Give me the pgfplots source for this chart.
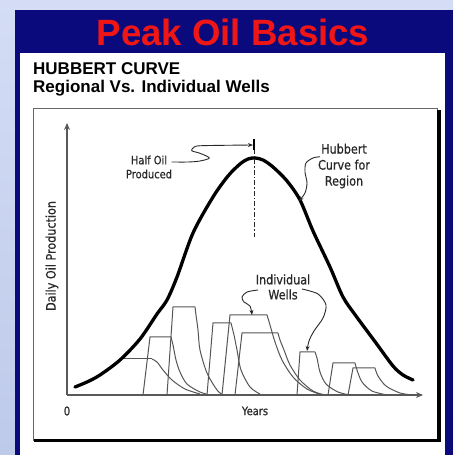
\documentclass[border=0pt]{standalone}
\usepackage{fontspec}
\setmainfont{Liberation Sans}
\newfontfamily\lab[FakeStretch=0.86, FakeBold=0.6]{DejaVu Sans}
\usepackage{pgfplots}
\pgfplotsset{compat=1.18}
\usetikzlibrary{arrows.meta}
\definecolor{bgblue}{RGB}{200,210,238}
\definecolor{navy}{RGB}{10,10,125}
\definecolor{titlered}{RGB}{240,22,22}
\definecolor{wellgray}{RGB}{85,85,85}
\definecolor{labgray}{RGB}{40,40,40}
\begin{document}
\begin{tikzpicture}[x=1pt,y=1pt]
\shade[top color={rgb,255:red,212;green,221;blue,245}, bottom color={rgb,255:red,190;green,202;blue,234}] (0,0) rectangle (453,455);
\fill[navy] (15,0) rectangle (453,445);
\fill[white] (20,0) rectangle (445,402);
\node[anchor=base, inner sep=0, text=titlered, font=\fontsize{36.6}{40}\selectfont\bfseries] at (233,409) {Peak Oil Basics};
\node[anchor=base west, inner sep=0, font=\fontsize{17}{20}\selectfont\bfseries] at (33,380) {HUBBERT CURVE};
\node[anchor=base west, inner sep=0, font=\fontsize{17}{20}\selectfont\bfseries] at (33,362) {Regional Vs. Individual Wells};
\draw[black!60, line width=0.8pt] (33,15) rectangle (437,347);
\draw[black, line width=3.5pt] (34,14.5) -- (439,14.5) -- (439,345);
\begin{axis}[at={(67pt,60pt)}, anchor=south west,
  x=1pt, y=1pt, xmin=0, xmax=356, ymin=0, ymax=272,
  axis lines=left, xtick=\empty, ytick=\empty, clip=false,
  axis line style={draw=black!65, line width=1.3pt},
  x axis line style={-{Stealth[length=7pt,width=6pt]}},
  y axis line style={-{Stealth[length=7pt,width=6pt]}},
  well/.style={draw=wellgray, line width=1pt, sharp plot, no marks},
  decay/.style={draw=wellgray, line width=1pt, smooth, no marks},
  leader/.style={draw=labgray, line width=0.9pt, smooth, no marks},
]
% individual wells: rise + plateau, then decline
\addplot[well] coordinates {(55,36) (85,36)};
\addplot[decay] coordinates {(85,36) (90,33) (96,25) (105,15) (118,6) (133,1)};
\addplot[well] coordinates {(76,0) (83,58) (104,58)};
\addplot[decay] coordinates {(104,58) (106,50) (109,35) (113,23) (120,11) (133,3) (143,0)};
\addplot[well] coordinates {(100,0) (106,88) (128,88)};
\addplot[decay] coordinates {(128,88) (129,80) (131,65) (133,45) (140,22) (150,5) (156,0)};
\addplot[well] coordinates {(140,0) (146,72) (164,72)};
\addplot[decay] coordinates {(164,72) (167,60) (170,45) (174,25) (183,8) (193,1)};
\addplot[well] coordinates {(155,0) (163,80) (200,80)};
\addplot[decay] coordinates {(200,80) (203,70) (208,53) (215,35) (226,18) (240,6) (255,0)};
\addplot[well] coordinates {(168,0) (175,62) (211,62)};
\addplot[decay] coordinates {(211,62) (213,55) (217,45) (223,30) (233,15) (246,4) (258,0)};
\addplot[well] coordinates {(230,0) (233,43) (248,43)};
\addplot[decay] coordinates {(248,43) (250,37) (253,23) (259,11) (271,3) (283,0)};
\addplot[well] coordinates {(261,0) (266,32) (288,32)};
\addplot[decay] coordinates {(288,32) (290,25) (295,13) (305,4) (320,0)};
\addplot[well] coordinates {(281,0) (286,27) (308,27)};
\addplot[decay] coordinates {(308,27) (311,19) (319,9) (333,2) (346,0)};
% Hubbert curve
\addplot[black, line width=3.3pt, line cap=round, smooth, no marks] coordinates {
(8,8) (20,13) (33,20) (53,35) (73,56) (90,81) (100,95) (110,118) (126,162)
(146,198) (161,219) (173,231) (181,236) (188,237) (196,235) (206,228) (220,214)
(233,195) (246,164) (263,128) (276,98) (289,79) (309,52) (326,29) (336,20) (346,15)};
% half oil marker
\addplot[black!85, line width=1.2pt, dash pattern=on 5pt off 2pt on 1.5pt off 2pt, no marks] coordinates {(187.5,246) (187.5,158)};
\addplot[black, line width=1.2pt, no marks] coordinates {(187,245) (187,256)};
\addplot[leader, tension=0.5, -{Stealth[length=5pt,width=4pt]}] coordinates {
(104.7,233) (121.3,233) (133,234) (142.3,237) (133,241.7) (124.7,244.3) (127,247.7) (134.7,249.3) (186,250)};
% leaders
\addplot[leader, -{Stealth[length=5pt,width=4pt]}] coordinates {(253,238.3) (246,237) (239,232) (238,223) (240,212) (238,202) (232,194)};
\addplot[leader, -{Stealth[length=5pt,width=4pt]}] coordinates {(191,105) (180,103) (175,98) (177,93) (183,89) (185,80)};
\addplot[leader, -{Stealth[length=5pt,width=4pt]}] coordinates {(235,106) (251,101) (259,90) (256,77) (247,64) (242,54) (240,44)};
% labels
\node[font=\lab\fontsize{11.5}{14}\selectfont, text=labgray, align=center] at (axis cs:82,228) {Half Oil\\Produced};
\node[font=\lab\fontsize{13}{16}\selectfont, text=labgray, align=center] at (axis cs:277,229) {Hubbert\\Curve for\\Region};
\node[font=\lab\fontsize{13}{15}\selectfont, text=labgray, align=center] at (axis cs:216,108) {Individual\\Wells};
\node[font=\lab\fontsize{12}{14}\selectfont, text=labgray] at (axis cs:0,-16) {0};
\node[font=\lab\fontsize{11.5}{14}\selectfont, text=labgray] at (axis cs:188,-16) {Years};
\node[font=\lab\fontsize{13}{15}\selectfont, text=labgray, rotate=90] at (axis cs:-15,139) {Daily Oil Production};
\end{axis}
\end{tikzpicture}
\end{document}
